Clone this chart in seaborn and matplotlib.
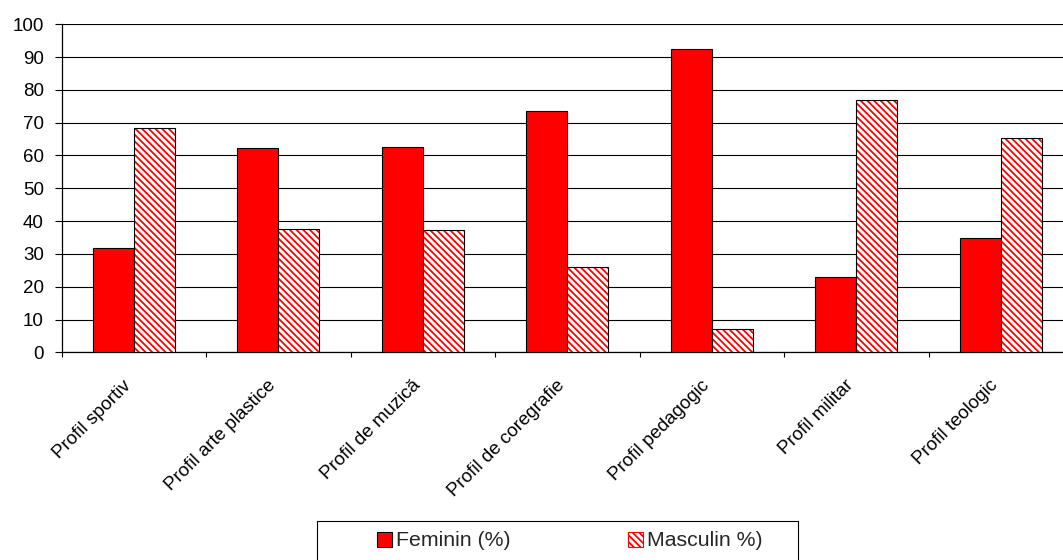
import matplotlib
matplotlib.use("Agg")
import matplotlib.pyplot as plt
from matplotlib.patches import Rectangle, Patch
from matplotlib.transforms import ScaledTranslation
import numpy as np
import pandas as pd
import seaborn as sns

profiles = ["Profil sportiv", "Profil arte plastice", "Profil de muzică",
            "Profil de coregrafie", "Profil pedagogic", "Profil militar",
            "Profil teologic"]
feminin = [31.7, 62.4, 62.6, 73.7, 92.5, 23.0, 34.7]
masculin = [68.3, 37.5, 37.4, 26.1, 7.2, 76.9, 65.4]
series_names = ["Feminin (%)", "Masculin %)"]
y_ticks = list(range(0, 101, 10))

df = pd.DataFrame({
    "profil": profiles * 2,
    "procent": feminin + masculin,
    "gen": [series_names[0]] * len(profiles) + [series_names[1]] * len(profiles),
})

sns.set_theme(style="white")
plt.rcParams["font.family"] = ["Liberation Sans", "DejaVu Sans"]
plt.rcParams["hatch.linewidth"] = 1.3

W, H = 1063, 560
fig = plt.figure(figsize=(W / 100, H / 100), dpi=100)
left, right, top, bottom = 61.5, 1073.0, 24.3, 352.3
ax = fig.add_axes([left / W, 1 - bottom / H, (right - left) / W, (bottom - top) / H])

sns.barplot(data=df, x="profil", y="procent", hue="gen", order=profiles,
            hue_order=series_names, palette=["#ff0000", "#ff0000"],
            width=0.57, dodge=True, gap=0, edgecolor="black", linewidth=0.8,
            saturation=1, legend=False, ax=ax, zorder=3)

# second series: white bars with dense red diagonal stripes
hatch = "\\\\\\\\\\"
for bar in ax.containers[1]:
    bar.set_facecolor("white")
    bar.set_hatch(hatch)
    if hasattr(bar, "set_hatchcolor"):
        bar.set_hatchcolor("#ff0000")
        bar.set_edgecolor("black")
    else:
        bar.set_edgecolor("#ff0000")
        bar.set_linewidth(0)
        ax.add_patch(Rectangle((bar.get_x(), bar.get_y()), bar.get_width(),
                               bar.get_height(), fill=False, edgecolor="black",
                               linewidth=0.8, zorder=4))

ax.set_ylim(0, 100)
ax.set_xlim(-0.5, len(profiles) - 0.5)
ax.set_yticks(y_ticks)
ax.yaxis.grid(True, color="black", linewidth=0.8)
ax.set_axisbelow(True)
ax.set_xlabel("")
ax.set_ylabel("")

for side in ("top", "right"):
    ax.spines[side].set_visible(False)
for side in ("left", "bottom"):
    ax.spines[side].set_color("black")
    ax.spines[side].set_linewidth(0.9)

ax.tick_params(axis="y", direction="out", length=4.8, width=0.8, color="black",
               pad=8, labelsize=13.5, labelcolor="black", left=True)
ax.set_xticks(np.arange(len(profiles)))
ax.set_xticks(np.arange(len(profiles) + 1) - 0.5, minor=True)
ax.tick_params(axis="x", which="minor", direction="out", length=3.6, width=0.8,
               color="black", bottom=True)
ax.tick_params(axis="x", which="major", length=0, pad=22, labelsize=13.5,
               labelcolor="black")
shift = ScaledTranslation(-5 / 100, 0, fig.dpi_scale_trans)
for lbl in ax.get_xticklabels():
    lbl.set_rotation(45)
    lbl.set_ha("right")
    lbl.set_va("center")
    lbl.set_rotation_mode("anchor")
    lbl.set_transform(lbl.get_transform() + shift)

# legend at the bottom, inside a plain rectangular frame
handles = [Patch(facecolor="#ff0000", edgecolor="black", linewidth=0.8),
           Patch(facecolor="white", edgecolor="#ff0000", hatch=hatch, linewidth=0.8)]
leg = fig.legend(handles, series_names, loc="center left", ncol=2,
                 bbox_to_anchor=(377 / W, 1 - 541 / H), frameon=False,
                 fontsize=15.3, handlelength=0.7, handleheight=0.7,
                 handletextpad=0.2, columnspacing=5.5, borderpad=0,
                 borderaxespad=0)
fig.add_artist(Rectangle((317 / W, -0.02), (798 - 317) / W, (560 - 521) / H + 0.02,
                         transform=fig.transFigure, fill=False,
                         edgecolor="black", linewidth=0.8))

fig.savefig("out.png", dpi=100, facecolor="white")
